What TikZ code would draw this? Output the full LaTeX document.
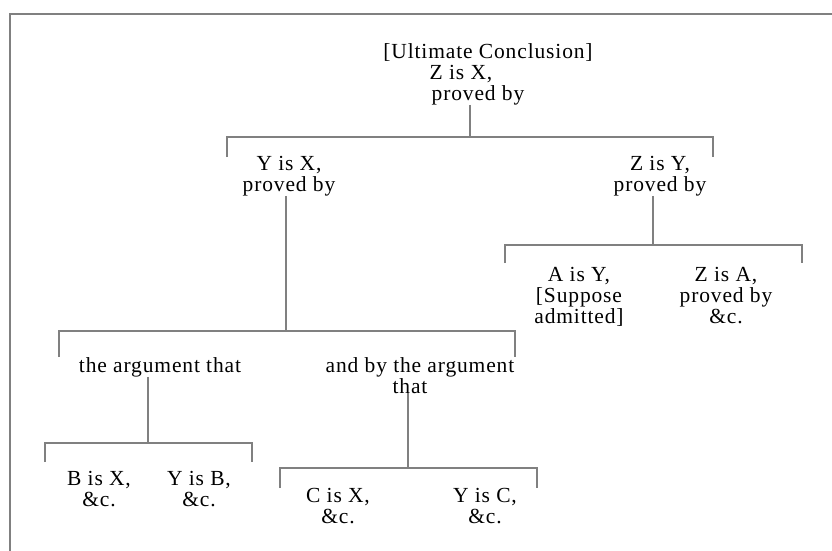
\documentclass[tikz,border=0pt]{standalone}
\usepackage{fontspec}
\setmainfont{Liberation Serif}[LetterSpace=4]
\begin{document}
\begin{tikzpicture}[x=1pt,y=-1pt,
  lbl/.style={align=center, anchor=base, inner sep=0pt, font=\fontsize{21.5}{21}\selectfont},
  link/.style={draw=black!50, line width=1.2pt},
  frameline/.style={draw=black!50, line width=2pt}]
\useasboundingbox (0,0) rectangle (832,551);
\draw[frameline] (10,551) -- (10,14) -- (832,14);

% text nodes (anchor = baseline of the last line)
\node[lbl] (top) at (478,100) {\hspace*{20pt}[Ultimate Conclusion]\\\hspace*{-34pt}Z is X,\\proved by};
\node[lbl] (yx) at (289,191) {Y is X,\\proved by};
\node[lbl] (zy) at (660,191) {Z is Y,\\proved by};
\node[lbl] (ay) at (579,323) {A is Y,\\{[}Suppose\\admitted]};
\node[lbl] (za) at (726,323) {Z is A,\\proved by\\\&c.};
\node[lbl] (arg1) at (160,372) {the argument that};
\node[lbl] (arg2) at (420,393) {and by the argument\\\hspace*{-20pt}that};
\node[lbl] (bx) at (99,506) {B is X,\\\&c.};
\node[lbl] (yb) at (199,506) {Y is B,\\\&c.};
\node[lbl] (cx) at (338,523) {C is X,\\\&c.};
\node[lbl] (yc) at (485,523) {Y is C,\\\&c.};

% junctions
\coordinate (j1) at (470,137);
\coordinate (j1l) at (227,137);
\coordinate (j1r) at (713,137);
\coordinate (t1l) at (227,157);
\coordinate (t1r) at (713,157);

\coordinate (j2) at (286,331);
\coordinate (j2l) at (59,331);
\coordinate (j2r) at (515,331);
\coordinate (t2l) at (59,357);
\coordinate (t2r) at (515,357);

\coordinate (j3) at (653,245);
\coordinate (j3l) at (505,245);
\coordinate (j3r) at (802,245);
\coordinate (t3l) at (505,263);
\coordinate (t3r) at (802,263);

\coordinate (j4) at (148,443);
\coordinate (j4l) at (45,443);
\coordinate (j4r) at (252,443);
\coordinate (t4l) at (45,462);
\coordinate (t4r) at (252,462);

\coordinate (j5) at (408,468);
\coordinate (j5l) at (280,468);
\coordinate (j5r) at (537,468);
\coordinate (t5l) at (280,488);
\coordinate (t5r) at (537,488);

% connectors
\draw[link] (top.south -| j1) -- (j1);
\draw[link] (t1l) -- (j1l) -- (j1r) -- (t1r);
\draw[link] (yx.south -| j2) -- (j2);
\draw[link] (t2l) -- (j2l) -- (j2r) -- (t2r);
\draw[link] (zy.south -| j3) -- (j3);
\draw[link] (t3l) -- (j3l) -- (j3r) -- (t3r);
\draw[link] (arg1.south -| j4) -- (j4);
\draw[link] (t4l) -- (j4l) -- (j4r) -- (t4r);
\draw[link] (arg2.south -| j5) -- (j5);
\draw[link] (t5l) -- (j5l) -- (j5r) -- (t5r);
\end{tikzpicture}
\end{document}
